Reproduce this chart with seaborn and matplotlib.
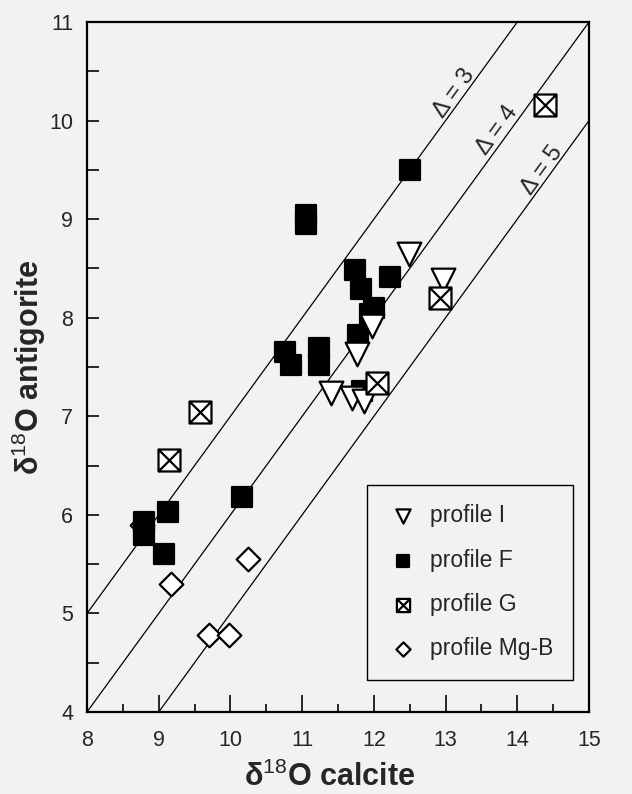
import numpy as np
import pandas as pd
import seaborn as sns
import matplotlib
matplotlib.use("Agg")
from matplotlib import pyplot as plt
from matplotlib.path import Path

# values (delta18O calcite, delta18O antigorite)
profile_i_calcite = [12.49, 12.97, 11.98, 11.77, 11.40, 11.70, 11.86]
profile_i_antigorite = [8.65, 8.38, 7.92, 7.63, 7.24, 7.19, 7.16]

profile_f_calcite = [12.50, 11.05, 11.05, 11.74, 12.22, 11.82, 12.00, 11.95, 11.78,
                     10.76, 10.84, 11.24, 11.24, 11.83, 10.16, 9.13, 8.80, 8.80, 9.07]
profile_f_antigorite = [9.50, 9.04, 8.95, 8.48, 8.41, 8.29, 8.10, 8.04, 7.82,
                        7.65, 7.52, 7.69, 7.52, 7.26, 6.18, 6.03, 5.93, 5.80, 5.60]

profile_g_calcite = [14.38, 12.92, 12.04, 9.58, 9.15]
profile_g_antigorite = [10.16, 8.20, 7.34, 7.04, 6.56]

profile_mgb_calcite = [8.77, 9.17, 10.24, 9.70, 9.98]
profile_mgb_antigorite = [5.90, 5.30, 5.55, 4.78, 4.78]

# fractionation lines, delta = calcite - antigorite
deltas = [3, 4, 5]
delta_label_pos = [(13.12, 10.28), (13.72, 9.90), (14.35, 9.50)]

# square with a cross in it for profile G
crossed_square = Path(
    [(-1, -1), (1, -1), (1, 1), (-1, 1), (-1, -1), (-1, -1), (1, 1), (-1, 1), (1, -1)],
    [Path.MOVETO, Path.LINETO, Path.LINETO, Path.LINETO, Path.CLOSEPOLY,
     Path.MOVETO, Path.LINETO, Path.MOVETO, Path.LINETO])

sns.set_style("ticks")
plt.rcParams['font.family'] = ['Liberation Sans', 'DejaVu Sans']
plt.rcParams['mathtext.fontset'] = 'custom'
plt.rcParams['mathtext.rm'] = 'Liberation Sans'
plt.rcParams['mathtext.bf'] = 'Liberation Sans:bold'

bg = '#f2f2f0'
fig = plt.figure(figsize=(6.32, 7.94), dpi=100, facecolor=bg)
ax = fig.add_axes([0.1377, 0.1033, 0.7943, 0.869])
ax.set_facecolor(bg)

# delta lines
xs = np.array([8, 15])
for d, (lx, ly) in zip(deltas, delta_label_pos):
    ax.plot(xs, xs - d, color='black', lw=0.9, zorder=1)
    ax.text(lx, ly, 'Δ = %d' % d, rotation=54, ha='center', va='center',
            fontsize=17, zorder=1)

groups = [
    ('profile Mg-B', profile_mgb_calcite, profile_mgb_antigorite, 'D', 'white', 145, 2),
    ('profile F', profile_f_calcite, profile_f_antigorite, 's', 'black', 215, 3),
    ('profile I', profile_i_calcite, profile_i_antigorite, 'v', 'white', 290, 4),
    ('profile G', profile_g_calcite, profile_g_antigorite, crossed_square, 'white', 250, 5),
]
for name, xc, ya, marker, face, size, z in groups:
    df = pd.DataFrame({'calcite': xc, 'antigorite': ya})
    sns.scatterplot(data=df, x='calcite', y='antigorite', marker=marker, s=size,
                    color=face, edgecolor='black', linewidth=1.6, label=name,
                    zorder=z, ax=ax)

ax.set_xlim(8, 15)
ax.set_ylim(4, 11)
ax.set_xticks(np.arange(8, 16, 1))
ax.set_xticks(np.arange(8.5, 15, 1), minor=True)
ax.set_yticks(np.arange(4, 12, 1))
ax.set_yticks(np.arange(4.5, 11, 1), minor=True)
ax.tick_params(axis='x', which='major', direction='in', length=12, width=1.4,
               labelsize=15.5, pad=13)
ax.tick_params(axis='x', which='minor', direction='in', length=5.5, width=1.4)
ax.tick_params(axis='y', which='both', direction='in', length=8.5, width=1.4,
               labelsize=15.5, pad=10)
for s in ax.spines.values():
    s.set_linewidth(1.6)
    s.set_color('black')

ax.set_xlabel('δ$^{18}$O calcite', fontsize=22, fontweight='bold')
ax.set_ylabel('δ$^{18}$O antigorite', fontsize=22, fontweight='bold')
ax.xaxis.set_label_coords(0.484, -0.072)
ax.yaxis.set_label_coords(-0.077, 0.5)

# legend in the order of the original
handles, labels = ax.get_legend_handles_labels()
order = [labels.index(n) for n in ['profile I', 'profile F', 'profile G', 'profile Mg-B']]
leg = ax.legend([handles[i] for i in order], [labels[i] for i in order],
                loc='upper left', bbox_to_anchor=(0.558, 0.329), borderaxespad=0,
                fontsize=16.5, markerscale=0.6, labelspacing=0.93, handletextpad=0.5,
                borderpad=0.85, handlelength=1.4, fancybox=False, framealpha=1,
                facecolor=bg, edgecolor='black')
leg.get_frame().set_linewidth(1.0)

plt.savefig('out.png', dpi=100, facecolor=bg)
